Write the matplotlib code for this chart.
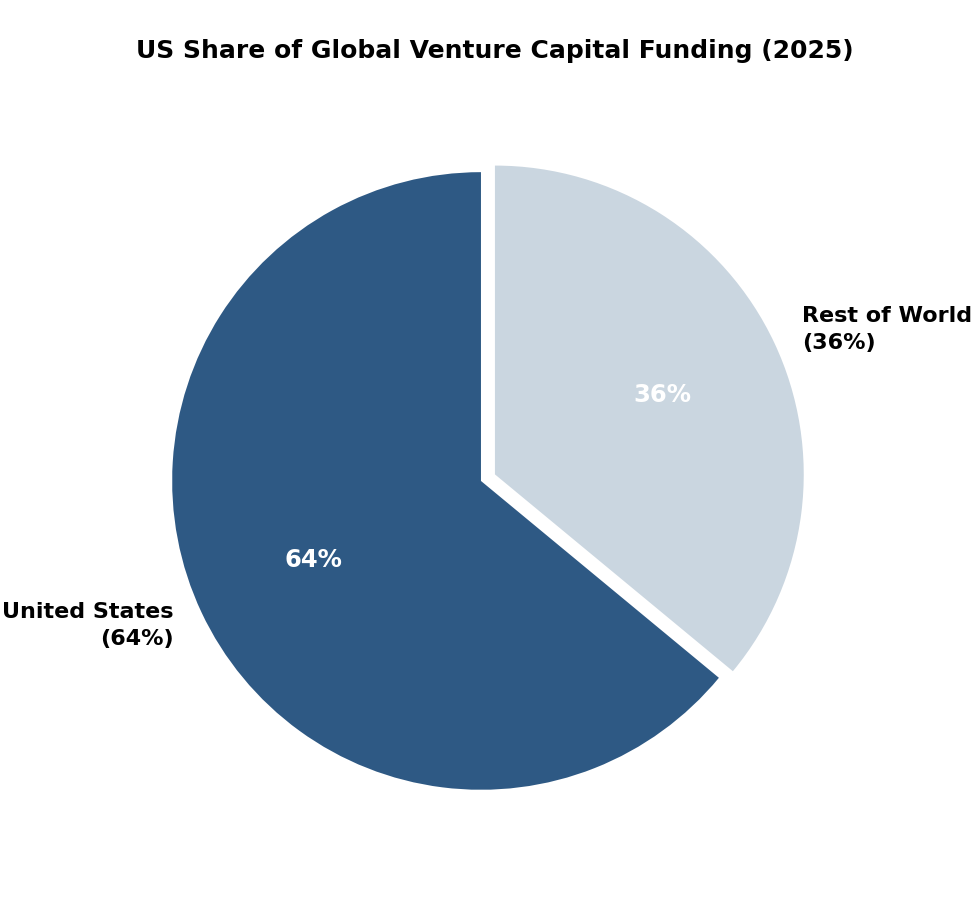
import matplotlib.pyplot as plt

# data
labels = ['United States', 'Rest of World']
shares = [64, 36]
colors = ['#2E5984', '#CAD6E0']
explode = [0, 0.05]

fig = plt.figure(figsize=(9.75, 9), dpi=100)
ax = fig.add_axes([0.0974, 0.0367, 0.7918, 0.8578])

wedge_labels = [f'{l}\n({s}%)' for l, s in zip(labels, shares)]
wedges, texts, autotexts = ax.pie(
    shares, labels=wedge_labels, colors=colors, explode=explode,
    startangle=90, autopct='%1.0f%%', pctdistance=0.6, labeldistance=1.1,
    textprops={'fontsize': 16, 'fontweight': 'bold'})

for t in texts:
    t.set_linespacing(1.45)
for t in autotexts:
    t.set_color('white')
    t.set_fontsize(17.5)
    t.set_fontweight('bold')

ax.set_aspect('equal')
fig.text(0.507, 1 - 51 / 900, 'US Share of Global Venture Capital Funding (2025)',
         ha='center', va='center', fontsize=18, fontweight='bold')

fig.savefig('out.png', dpi=100)
